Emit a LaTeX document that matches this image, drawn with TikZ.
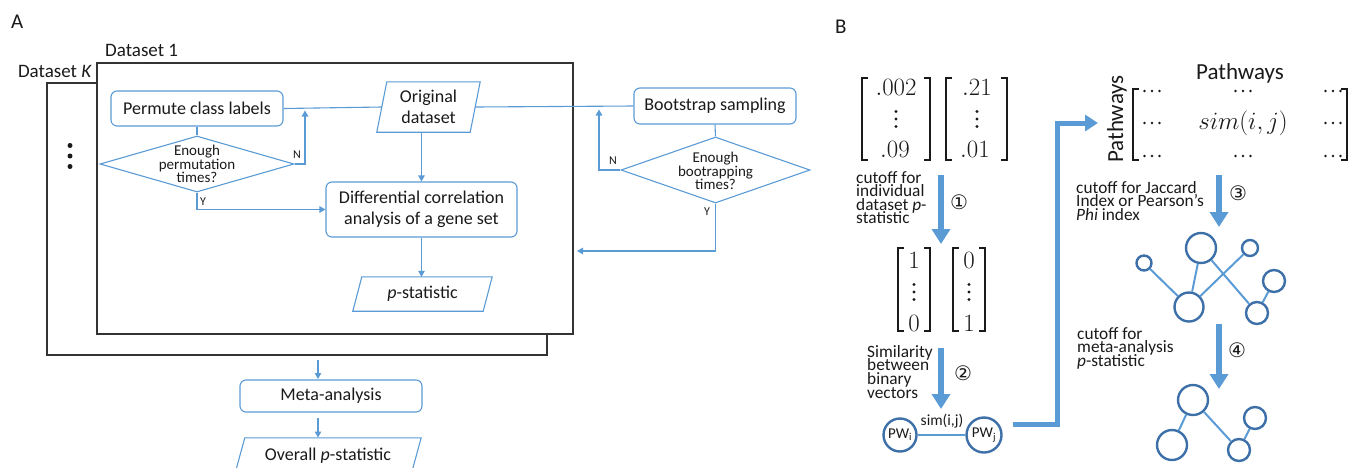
\documentclass[tikz,border=0pt]{standalone}
\usepackage[no-math]{fontspec}
\setmainfont{Carlito}
\newfontfamily\dejavu{DejaVu Sans}
\usetikzlibrary{arrows.meta,shapes.geometric,calc}
\definecolor{lblue}{HTML}{5B9BD5}
\definecolor{cblue}{HTML}{3D70A8}
\definecolor{dgray}{HTML}{333333}
\definecolor{txt}{HTML}{1A1A1A}
\newcommand\tightls{\setlength{\lineskiplimit}{-50pt}\setlength{\lineskip}{0pt}}
\newcommand\mypara[2]{\draw[pline] (#1.south west) -- ($(#1.south east)+(-#2,0)$) -- (#1.north east) -- ($(#1.north west)+(#2,0)$) -- cycle;}
\newcommand\mybrk[1]{%
  \draw[brk] ($(#1.north west)+(6,0)$) -- (#1.north west) -- (#1.south west) -- ($(#1.south west)+(6,0)$);
  \draw[brk] ($(#1.north east)+(-6,0)$) -- (#1.north east) -- (#1.south east) -- ($(#1.south east)+(-6,0)$);}
\newcommand\vdt[2]{\fill[txt] (#1,#2-7.5) circle (1.6) (#1,#2) circle (1.6) (#1,#2+7.5) circle (1.6);}
\newcommand\hdt[2]{\fill[txt] (#1-7.5,#2) circle (1.4) (#1,#2) circle (1.4) (#1+7.5,#2) circle (1.4);}
\begin{document}
\begin{tikzpicture}[x=1pt,y=-1pt,
  every node/.style={text=txt, inner sep=0pt},
  conn/.style={draw=lblue, line width=1.1pt},
  arr/.style={conn, -{Triangle[length=6pt,width=6.5pt]}},
  pline/.style={draw=lblue, line width=1.1pt},
  fc/.style={draw=lblue, line width=1.1pt, rounded corners=6pt, align=center, font=\fontsize{18}{21.5}\selectfont},
  tx/.style={align=center, font=\fontsize{18}{20.5}\selectfont},
  dia/.style={diamond, draw=lblue, line width=1.1pt, inner sep=0pt},
  dtext/.style={align=center, font=\fontsize{15}{13.6}\selectfont\tightls},
  yn/.style={font=\fontsize{12}{14}\selectfont},
  dsbox/.style={draw=dgray, line width=2pt, fill=white, anchor=north west},
  brk/.style={draw=txt, line width=1.6pt},
  mnum/.style={font=\fontsize{25}{27}\selectfont},
  btxt/.style={align=left, anchor=north west, font=\fontsize{17.3}{13.6}\selectfont\tightls},
  circ/.style={font=\fontsize{20}{22}\selectfont\dejavu},
  bigarr/.style={draw=lblue, line width=6pt, -{Triangle[length=15pt,width=18pt]}},
  net/.style={draw=lblue, line width=2pt},
  pc/.style={circle, draw=cblue, line width=2.4pt, fill=white, minimum size=#1}
]
\useasboundingbox (0,0) rectangle (1361,467);
\clip (0,0) rectangle (1361,467);

% ---------------- Panel A ----------------
\node[anchor=base west, font=\fontsize{21}{24}\selectfont] (labA) at (11,28) {A};
\node[dsbox, minimum width=500, minimum height=272] (dsK) at (46,82) {};
\node[dsbox, minimum width=476, minimum height=271] (ds1) at (96,62) {};
\node[anchor=base west, font=\fontsize{19}{22}\selectfont] (ds1lab) at (105,56) {Dataset 1};
\node[anchor=base east, font=\fontsize{19}{22}\selectfont] (dsKlab) at (92,77) {Dataset \textit{K}};
\fill[txt] (70,145.5) circle (2.5) (70,156) circle (2.5) (70,166.5) circle (2.5);

\node[fc, minimum width=172, minimum height=35] (perm) at (197,108.5) {Permute class labels};
\node[tx, minimum width=103, minimum height=50] (orig) at (428.5,107) {Original\\dataset};
\mypara{orig}{10}
\node[fc, minimum width=162, minimum height=36] (boot) at (715,106) {Bootstrap sampling};
\node[dia, minimum width=194, minimum height=56] (d1) at (197,164) {};
\node[dtext] (d1t) at (197,164) {Enough\\permutation\\times?};
\node[dia, minimum width=189, minimum height=66] (d2) at (715.5,170) {};
\node[dtext] (d2t) at (715.5,171) {Enough\\bootrapping\\times?};
\node[fc, minimum width=191, minimum height=55] (diff) at (421.5,209.5) {Differential correlation\\analysis of a gene set};
\node[tx, minimum width=139, minimum height=34] (pstat) at (422.5,294) {\textit{p}-statistic};
\mypara{pstat}{9}
\node[fc, minimum width=182, minimum height=32] (meta) at (331,396) {Meta-analysis};
\node[tx, minimum width=186, minimum height=36] (overall) at (328,456) {Overall \textit{p}-statistic};
\mypara{overall}{10}

\node[yn] (n1) at (297,155) {N};
\node[yn] (y1) at (203,202) {Y};
\node[yn] (n2) at (613,161) {N};
\node[yn] (y2) at (707,212) {Y};

\coordinate (n1end) at (305,110.5);
\coordinate (n2end) at (599,109.5);
\coordinate (y2end) at (577,251);
\coordinate (ma1) at (318,360);
\coordinate (ma2) at (318,379);
\coordinate (mb1) at (318,418);
\coordinate (mb2) at (318,437.5);

\draw[conn] (perm.east) -- ($(orig.west)+(5,0)$);
\draw[conn] ($(orig.east)+(-5,0)$) -- (boot.west);
\draw[conn] (perm.south) -- (d1.north);
\draw[arr] (d1.east) -| (n1end);
\draw[arr] (d1.south) |- (diff.west);
\draw[arr] (orig.south -| diff.north) -- (diff.north);
\draw[arr] (diff.south) -- (diff.south |- pstat.north);
\draw[conn] (boot.south) -- (d2.north);
\draw[arr] (d2.west) -| (n2end);
\draw[arr] (d2.south) |- (y2end);
\draw[arr] (ma1) -- (ma2);
\draw[arr] (mb1) -- (mb2);

% ---------------- Panel B ----------------
\node[anchor=base west, font=\fontsize{21}{24}\selectfont] (labB) at (835,33) {B};

% p-value vectors
\node[minimum width=68, minimum height=82] (m1) at (896,119) {};
\mybrk{m1}
\node[mnum] (m1a) at (896,87.5) {$.002$};
\vdt{896}{119}
\node[mnum] (m1c) at (895,149) {$.09$};
\node[minimum width=61, minimum height=82] (m2) at (976.5,119) {};
\mybrk{m2}
\node[mnum] (m2a) at (977,87.5) {$.21$};
\vdt{977}{119}
\node[mnum] (m2c) at (975,149) {$.01$};

% binary vectors
\node[minimum width=32, minimum height=83] (b1) at (914,289.5) {};
\mybrk{b1}
\node[mnum] (b1a) at (914,260) {$1$};
\vdt{914}{292}
\node[mnum] (b1c) at (914,323) {$0$};
\node[minimum width=32, minimum height=83] (b2) at (969,289.5) {};
\mybrk{b2}
\node[mnum] (b2a) at (969,260) {$0$};
\vdt{969}{292}
\node[mnum] (b2c) at (969,323) {$1$};

% texts
\node[btxt] (t1) at (856,171) {cutoff for\\individual\\dataset \textit{p}-\\statistic};
\node[btxt] (t2) at (867,345) {Similarity\\between\\binary\\vectors};
\node[btxt] (t3) at (1076,181) {cutoff for Jaccard\\Index or Pearson’s\\\textit{Phi} index};
\node[btxt] (t4) at (1077,327) {cutoff for\\meta-analysis\\\textit{p}-statistic};

\node[circ] (c1) at (959,202) {①};
\node[circ] (c2) at (963,373) {②};
\node[circ] (c3) at (1238,193) {③};
\node[circ] (c4) at (1237,350) {④};

% big arrows
\coordinate (a1s) at (941,175);
\coordinate (a1e) at (941,244);
\coordinate (a2s) at (941,348);
\coordinate (a2e) at (941,409);
\coordinate (a3s) at (1219,175);
\coordinate (a3e) at (1219,227);
\coordinate (a4s) at (1219,324);
\coordinate (a4e) at (1219,389);
\draw[bigarr] (a1s) -- (a1e);
\draw[bigarr] (a2s) -- (a2e);
\draw[bigarr] (a3s) -- (a3e);
\draw[bigarr] (a4s) -- (a4e);

% PW pair
\node[pc=33, font=\fontsize{15}{17}\selectfont] (pwi) at (900,435) {PW\textsubscript{i}};
\node[pc=35, font=\fontsize{15}{17}\selectfont] (pwj) at (984,435) {PW\textsubscript{j}};
\draw[net] (pwi) -- (pwj);
\node[font=\fontsize{15.5}{17}\selectfont] (simlab) at (942,421) {sim(i,j)};
\coordinate (bc1) at (1013,424);
\coordinate (bc2) at (1057,424);
\coordinate (bc3) at (1057,123);
\coordinate (bc4) at (1098,123);
\draw[draw=lblue, line width=5pt, -{Triangle[length=13pt,width=16pt]}] (bc1) -- (bc2) -- (bc3) -- (bc4);

% similarity matrix
\node[font=\fontsize{23}{26}\selectfont] (pwtop) at (1240,73) {Pathways};
\node[font=\fontsize{23}{26}\selectfont, rotate=90] (pwside) at (1117,119) {Pathways};
\node[minimum width=214, minimum height=71] (sm) at (1240,124.5) {};
\mybrk{sm}
\hdt{1152}{91}
\hdt{1243}{91}
\hdt{1333}{91}
\hdt{1152}{123}
\hdt{1333}{123}
\hdt{1152}{156}
\hdt{1243}{156}
\hdt{1333}{156}
\node[font=\fontsize{27}{30}\selectfont] (sim) at (1243,123) {$sim(i,j)$};

% network 1
\node[pc=30] (a1) at (1201,248) {};
\node[pc=16] (a2) at (1250,248) {};
\node[pc=15] (a3) at (1144,263) {};
\node[pc=29] (a4) at (1189,307) {};
\node[pc=22] (a5) at (1274,281) {};
\node[pc=22] (a6) at (1257,313) {};
\draw[net] (a3) -- (a4);
\draw[net] (a1) -- (a4);
\draw[net] (a4) -- (a2);
\draw[net] (a1) -- (a6);
\draw[net] (a6) -- (a5);

% network 2
\node[pc=30] (n1c) at (1193,400) {};
\node[pc=30] (n2c) at (1172,445) {};
\node[pc=22] (n3c) at (1239,450) {};
\node[pc=22] (n4c) at (1255,418) {};
\draw[net] (n1c) -- (n2c);
\draw[net] (n1c) -- (n3c);
\draw[net] (n3c) -- (n4c);
\end{tikzpicture}
\end{document}
